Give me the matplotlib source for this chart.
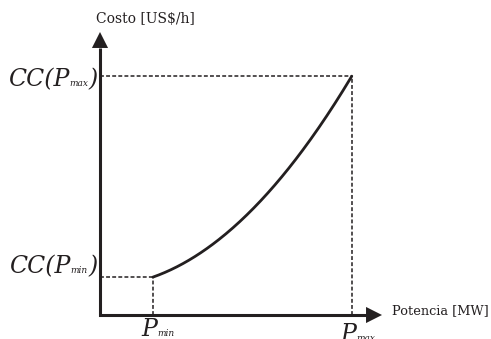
import numpy as np
import matplotlib
matplotlib.use("Agg")
import matplotlib.pyplot as plt

# Generator operating range [MW] and quadratic cost coefficients
P_min = 105.0
P_max = 500.0
cost_a = 340.0    # US$/h
cost_b = 0.0      # US$/MWh
cost_c = 0.01     # US$/MW^2h

x_label = "Potencia [MW]"
y_label = "Costo [US$/h]"
cc_labels = [("CC(P", "max", ")"), ("CC(P", "min", ")")]
p_labels = [("P", "min"), ("P", "max")]


def cost(p):
    return cost_a + cost_b * p + cost_c * p ** 2


CC_min = cost(P_min)
CC_max = cost(P_max)
P_curve = np.linspace(P_min, P_max, 200)

ink = "#231f20"
plt.rcParams["lines.scale_dashes"] = False

W, H = 491, 339
fig = plt.figure(figsize=(W / 100, H / 100), dpi=100)
ax = fig.add_axes([100 / W, 24 / H, 282 / W, 283 / H])
ax.set_xlim(0, 560)
ax.set_ylim(0, 3365)
ax.set_axis_off()

# axes with arrow heads
head = 15.5 / 283
ax.plot([0, 0, 1 - 15.5 / 282], [1 - head, 0, 0], transform=ax.transAxes,
        color=ink, lw=2.2, solid_joinstyle="miter", solid_capstyle="butt",
        clip_on=False)
for tip, tail in [((0, 1), (0, 0.9)), ((1, 0), (0.9, 0))]:
    ax.annotate("", xy=tip, xytext=tail, xycoords="axes fraction",
                arrowprops=dict(arrowstyle="-|>,head_length=1.15,head_width=0.58",
                                mutation_scale=10, lw=0, color=ink,
                                shrinkA=0, shrinkB=0))

# dashed guides
dash = dict(color=ink, lw=1.1, dashes=(2.8, 1.6))
ax.plot([0, P_max], [CC_max, CC_max], **dash)
ax.plot([P_max, P_max], [0, CC_max], **dash)
ax.plot([0, P_min], [CC_min, CC_min], **dash)
ax.plot([P_min, P_min], [0, CC_min], **dash)

# cost curve
ax.plot(P_curve, cost(P_curve), color=ink, lw=2.0, solid_capstyle="round")

serif = "DejaVu Serif"
main_fs = 17
sub_fs = 6.5

# CC(P_x) labels, built right-to-left from the axis
for (main, sub, close), level, dy in zip(cc_labels, [CC_max, CC_min], [-7, 2.8]):
    t_close = ax.annotate(close, xy=(0, level), xycoords=("axes fraction", "data"),
                          xytext=(-2, dy), textcoords="offset points",
                          ha="right", va="baseline", fontsize=main_fs,
                          family=serif, style="italic", color=ink)
    t_sub = ax.annotate(sub, xy=(0, level), xycoords=(t_close, "data"),
                        xytext=(0, dy), textcoords="offset points",
                        ha="right", va="baseline", fontsize=sub_fs,
                        family=serif, style="italic", color=ink)
    ax.annotate(main, xy=(0, level), xycoords=(t_sub, "data"),
                xytext=(0, dy), textcoords="offset points",
                ha="right", va="baseline", fontsize=main_fs,
                family=serif, style="italic", color=ink)

# P_min / P_max labels below the x axis
for (main, sub), p, dy in zip(p_labels, [P_min, P_max], [-15, -19]):
    t_p = ax.annotate(main, xy=(p, 0), xycoords=("data", "axes fraction"),
                      xytext=(3, dy), textcoords="offset points",
                      ha="right", va="baseline", fontsize=main_fs,
                      family=serif, style="italic", color=ink,
                      annotation_clip=False)
    ax.annotate(sub, xy=(1, 0), xycoords=(t_p, "axes fraction"),
                xytext=(0, dy), textcoords="offset points",
                ha="left", va="baseline", fontsize=sub_fs,
                family=serif, style="italic", color=ink,
                annotation_clip=False)

fig.text(145 / W, 1 - 23 / H, y_label, ha="center", va="baseline",
         fontsize=10, family=serif, color=ink)
fig.text(392 / W, 1 - 314 / H, x_label, ha="left", va="baseline",
         fontsize=9.3, family=serif, color=ink)

fig.savefig("out.png", dpi=100)
